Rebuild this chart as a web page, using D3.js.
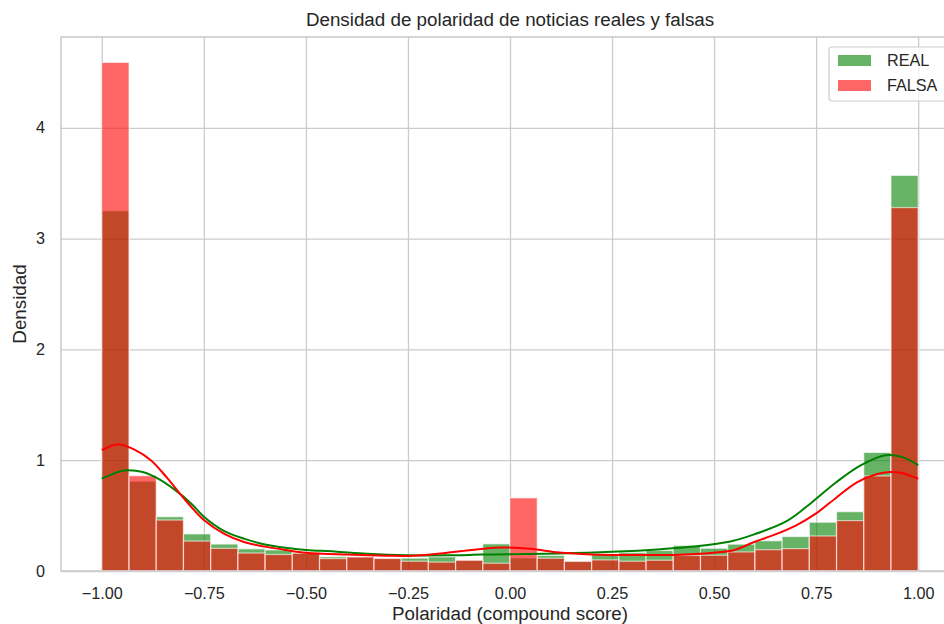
<!DOCTYPE html>
<html>
<head>
<meta charset="utf-8">
<script src="https://cdn.jsdelivr.net/npm/d3@7/dist/d3.min.js"></script>
<style>
  html, body { margin: 0; padding: 0; background: #ffffff; }
  svg { display: block; font-family: "Liberation Sans", Arial, sans-serif; }
</style>
</head>
<body>
<svg id="chart" width="944" height="624"></svg>
<script>
// Histogram: 30 equal-width bins over the compound score range [-1, 1]
const binRange = [-1, 1];
const binCount = 30;

// Density per bin (bins ordered from -1 to 1)
const realDensity = [3.25, 0.81, 0.49, 0.335, 0.243, 0.20, 0.19, 0.165, 0.128, 0.127,
                     0.113, 0.116, 0.127, 0.097, 0.245, 0.118, 0.14, 0.09, 0.15, 0.166,
                     0.185, 0.23, 0.205, 0.242, 0.273, 0.311, 0.44, 0.535, 1.07, 3.57];
const falsaDensity = [4.59, 0.86, 0.46, 0.27, 0.204, 0.162, 0.149, 0.16, 0.112, 0.127,
                      0.113, 0.088, 0.08, 0.097, 0.07, 0.66, 0.115, 0.086, 0.1, 0.088,
                      0.097, 0.14, 0.142, 0.172, 0.192, 0.202, 0.316, 0.455, 0.858, 3.28];

// KDE curves (x, density)
const kdeRealX = [-1.0, -0.96, -0.94, -0.90, -0.86, -0.82, -0.78, -0.75, -0.70, -0.65, -0.60, -0.55,
                  -0.50, -0.43, -0.35, -0.25, -0.15, -0.07, 0.0, 0.12, 0.25, 0.37, 0.45, 0.54,
                  0.60, 0.68, 0.74, 0.80, 0.86, 0.92, 0.96, 1.0];
const kdeRealY = [0.833, 0.895, 0.909, 0.894, 0.83, 0.73, 0.605, 0.49, 0.36, 0.29, 0.24, 0.21,
                  0.19, 0.176, 0.155, 0.142, 0.142, 0.148, 0.152, 0.158, 0.173, 0.197, 0.221, 0.267,
                  0.333, 0.455, 0.621, 0.803, 0.955, 1.045, 1.03, 0.955];
const kdeFalsaX = [-1.0, -0.96, -0.92, -0.88, -0.84, -0.80, -0.75, -0.70, -0.65, -0.60, -0.55, -0.50,
                   -0.40, -0.30, -0.25, -0.17, -0.10, -0.025, 0.05, 0.12, 0.20, 0.30, 0.40, 0.50,
                   0.55, 0.60, 0.65, 0.70, 0.75, 0.80, 0.85, 0.90, 0.93, 0.96, 1.0];
const kdeFalsaY = [1.09, 1.145, 1.095, 1.0, 0.84, 0.66, 0.46, 0.335, 0.26, 0.22, 0.19, 0.165,
                   0.148, 0.138, 0.136, 0.158, 0.188, 0.212, 0.2, 0.167, 0.15, 0.145, 0.145, 0.165,
                   0.19, 0.264, 0.33, 0.41, 0.52, 0.664, 0.80, 0.875, 0.894, 0.885, 0.833];

const xTicks = [-1.0, -0.75, -0.5, -0.25, 0.0, 0.25, 0.5, 0.75, 1.0];
const yTicks = [0, 1, 2, 3, 4];

const seriesNames = ["REAL", "FALSA"];
const seriesColors = ["#008000", "#ff0000"];

const title = "Densidad de polaridad de noticias reales y falsas";
const xLabel = "Polaridad (compound score)";
const yLabel = "Densidad";

// ---- layout ----
const svg = d3.select("#chart");
const plot = { left: 61, top: 37, right: 959, bottom: 571 };
const textColor = "#262626";
const gridColor = "#cccccc";
const tickFont = 16.2;
const labelFont = 18.8;

const binWidth = (binRange[1] - binRange[0]) / binCount;
const binEdges = d3.range(binCount).map(i => binRange[0] + i * binWidth);

const xPad = (binRange[1] - binRange[0]) * 0.05;
const x = d3.scaleLinear()
  .domain([binRange[0] - xPad, binRange[1] + xPad])
  .range([plot.left, plot.right]);
const yMax = d3.max(realDensity.concat(falsaDensity)) * 1.05;
const y = d3.scaleLinear().domain([0, yMax]).range([plot.bottom, plot.top]);

// grid
const fmtX = v => d3.format(".2f")(v).replace("-", "\u2212");
svg.append("g")
  .attr("transform", `translate(0,${plot.bottom})`)
  .call(d3.axisBottom(x).tickValues(xTicks).tickSize(-(plot.bottom - plot.top)).tickFormat(""))
  .call(g => g.select(".domain").remove())
  .call(g => g.selectAll("line").attr("stroke", gridColor).attr("stroke-width", 1.3));
svg.append("g")
  .attr("transform", `translate(${plot.left},0)`)
  .call(d3.axisLeft(y).tickValues(yTicks).tickSize(-(plot.right - plot.left)).tickFormat(""))
  .call(g => g.select(".domain").remove())
  .call(g => g.selectAll("line").attr("stroke", gridColor).attr("stroke-width", 1.3));

// bars
const seriesData = [realDensity, falsaDensity];
seriesData.forEach((vals, s) => {
  svg.append("g")
    .selectAll("rect")
    .data(vals)
    .join("rect")
    .attr("x", (d, i) => x(binEdges[i]))
    .attr("width", (d, i) => x(binEdges[i] + binWidth) - x(binEdges[i]))
    .attr("y", d => y(d))
    .attr("height", d => y(0) - y(d))
    .attr("fill", seriesColors[s])
    .attr("fill-opacity", 0.6)
    .attr("stroke", "#ffffff")
    .attr("stroke-opacity", 0.6)
    .attr("stroke-width", 1.2);
});

// KDE lines
const line = d3.line().x(d => x(d[0])).y(d => y(d[1])).curve(d3.curveCatmullRom.alpha(0.5));
const kdes = [d3.zip(kdeRealX, kdeRealY), d3.zip(kdeFalsaX, kdeFalsaY)];
kdes.forEach((pts, s) => {
  svg.append("path")
    .datum(pts)
    .attr("d", line)
    .attr("fill", "none")
    .attr("stroke", seriesColors[s])
    .attr("stroke-width", 2);
});

// frame (spines)
svg.append("rect")
  .attr("x", plot.left).attr("y", plot.top)
  .attr("width", plot.right - plot.left).attr("height", plot.bottom - plot.top)
  .attr("fill", "none").attr("stroke", gridColor).attr("stroke-width", 1.6);

// tick labels
svg.append("g")
  .attr("transform", `translate(0,${plot.bottom})`)
  .call(d3.axisBottom(x).tickValues(xTicks).tickSize(0).tickPadding(16).tickFormat(fmtX))
  .call(g => g.select(".domain").remove())
  .call(g => g.selectAll("text").attr("fill", textColor).attr("font-size", tickFont)
    .attr("font-family", "Liberation Sans, Arial, sans-serif"));
svg.append("g")
  .attr("transform", `translate(${plot.left},0)`)
  .call(d3.axisLeft(y).tickValues(yTicks).tickSize(0).tickPadding(16).tickFormat(d3.format("d")))
  .call(g => g.select(".domain").remove())
  .call(g => g.selectAll("text").attr("fill", textColor).attr("font-size", tickFont)
    .attr("font-family", "Liberation Sans, Arial, sans-serif"));

// title and axis labels
svg.append("text")
  .attr("x", (plot.left + plot.right) / 2).attr("y", 26)
  .attr("text-anchor", "middle").attr("fill", textColor).attr("font-size", labelFont)
  .text(title);
svg.append("text")
  .attr("x", (plot.left + plot.right) / 2).attr("y", 620)
  .attr("text-anchor", "middle").attr("fill", textColor).attr("font-size", labelFont)
  .text(xLabel);
svg.append("text")
  .attr("transform", `translate(26,${(plot.top + plot.bottom) / 2}) rotate(-90)`)
  .attr("text-anchor", "middle").attr("fill", textColor).attr("font-size", labelFont)
  .text(yLabel);

// legend
const legend = svg.append("g").attr("transform", "translate(829,47)");
legend.append("rect")
  .attr("x", 0).attr("y", 0).attr("width", 124).attr("height", 54).attr("rx", 3)
  .attr("fill", "#ffffff").attr("fill-opacity", 0.8)
  .attr("stroke", gridColor).attr("stroke-width", 1.2);
seriesNames.forEach((name, i) => {
  const row = legend.append("g").attr("transform", `translate(0,${8 + i * 25})`);
  row.append("rect")
    .attr("x", 9).attr("y", 0).attr("width", 33).attr("height", 11)
    .attr("fill", seriesColors[i]).attr("fill-opacity", 0.6);
  row.append("text")
    .attr("x", 58).attr("y", 5.5).attr("dy", "0.36em")
    .attr("fill", textColor).attr("font-size", tickFont)
    .text(name);
});
</script>
</body>
</html>
